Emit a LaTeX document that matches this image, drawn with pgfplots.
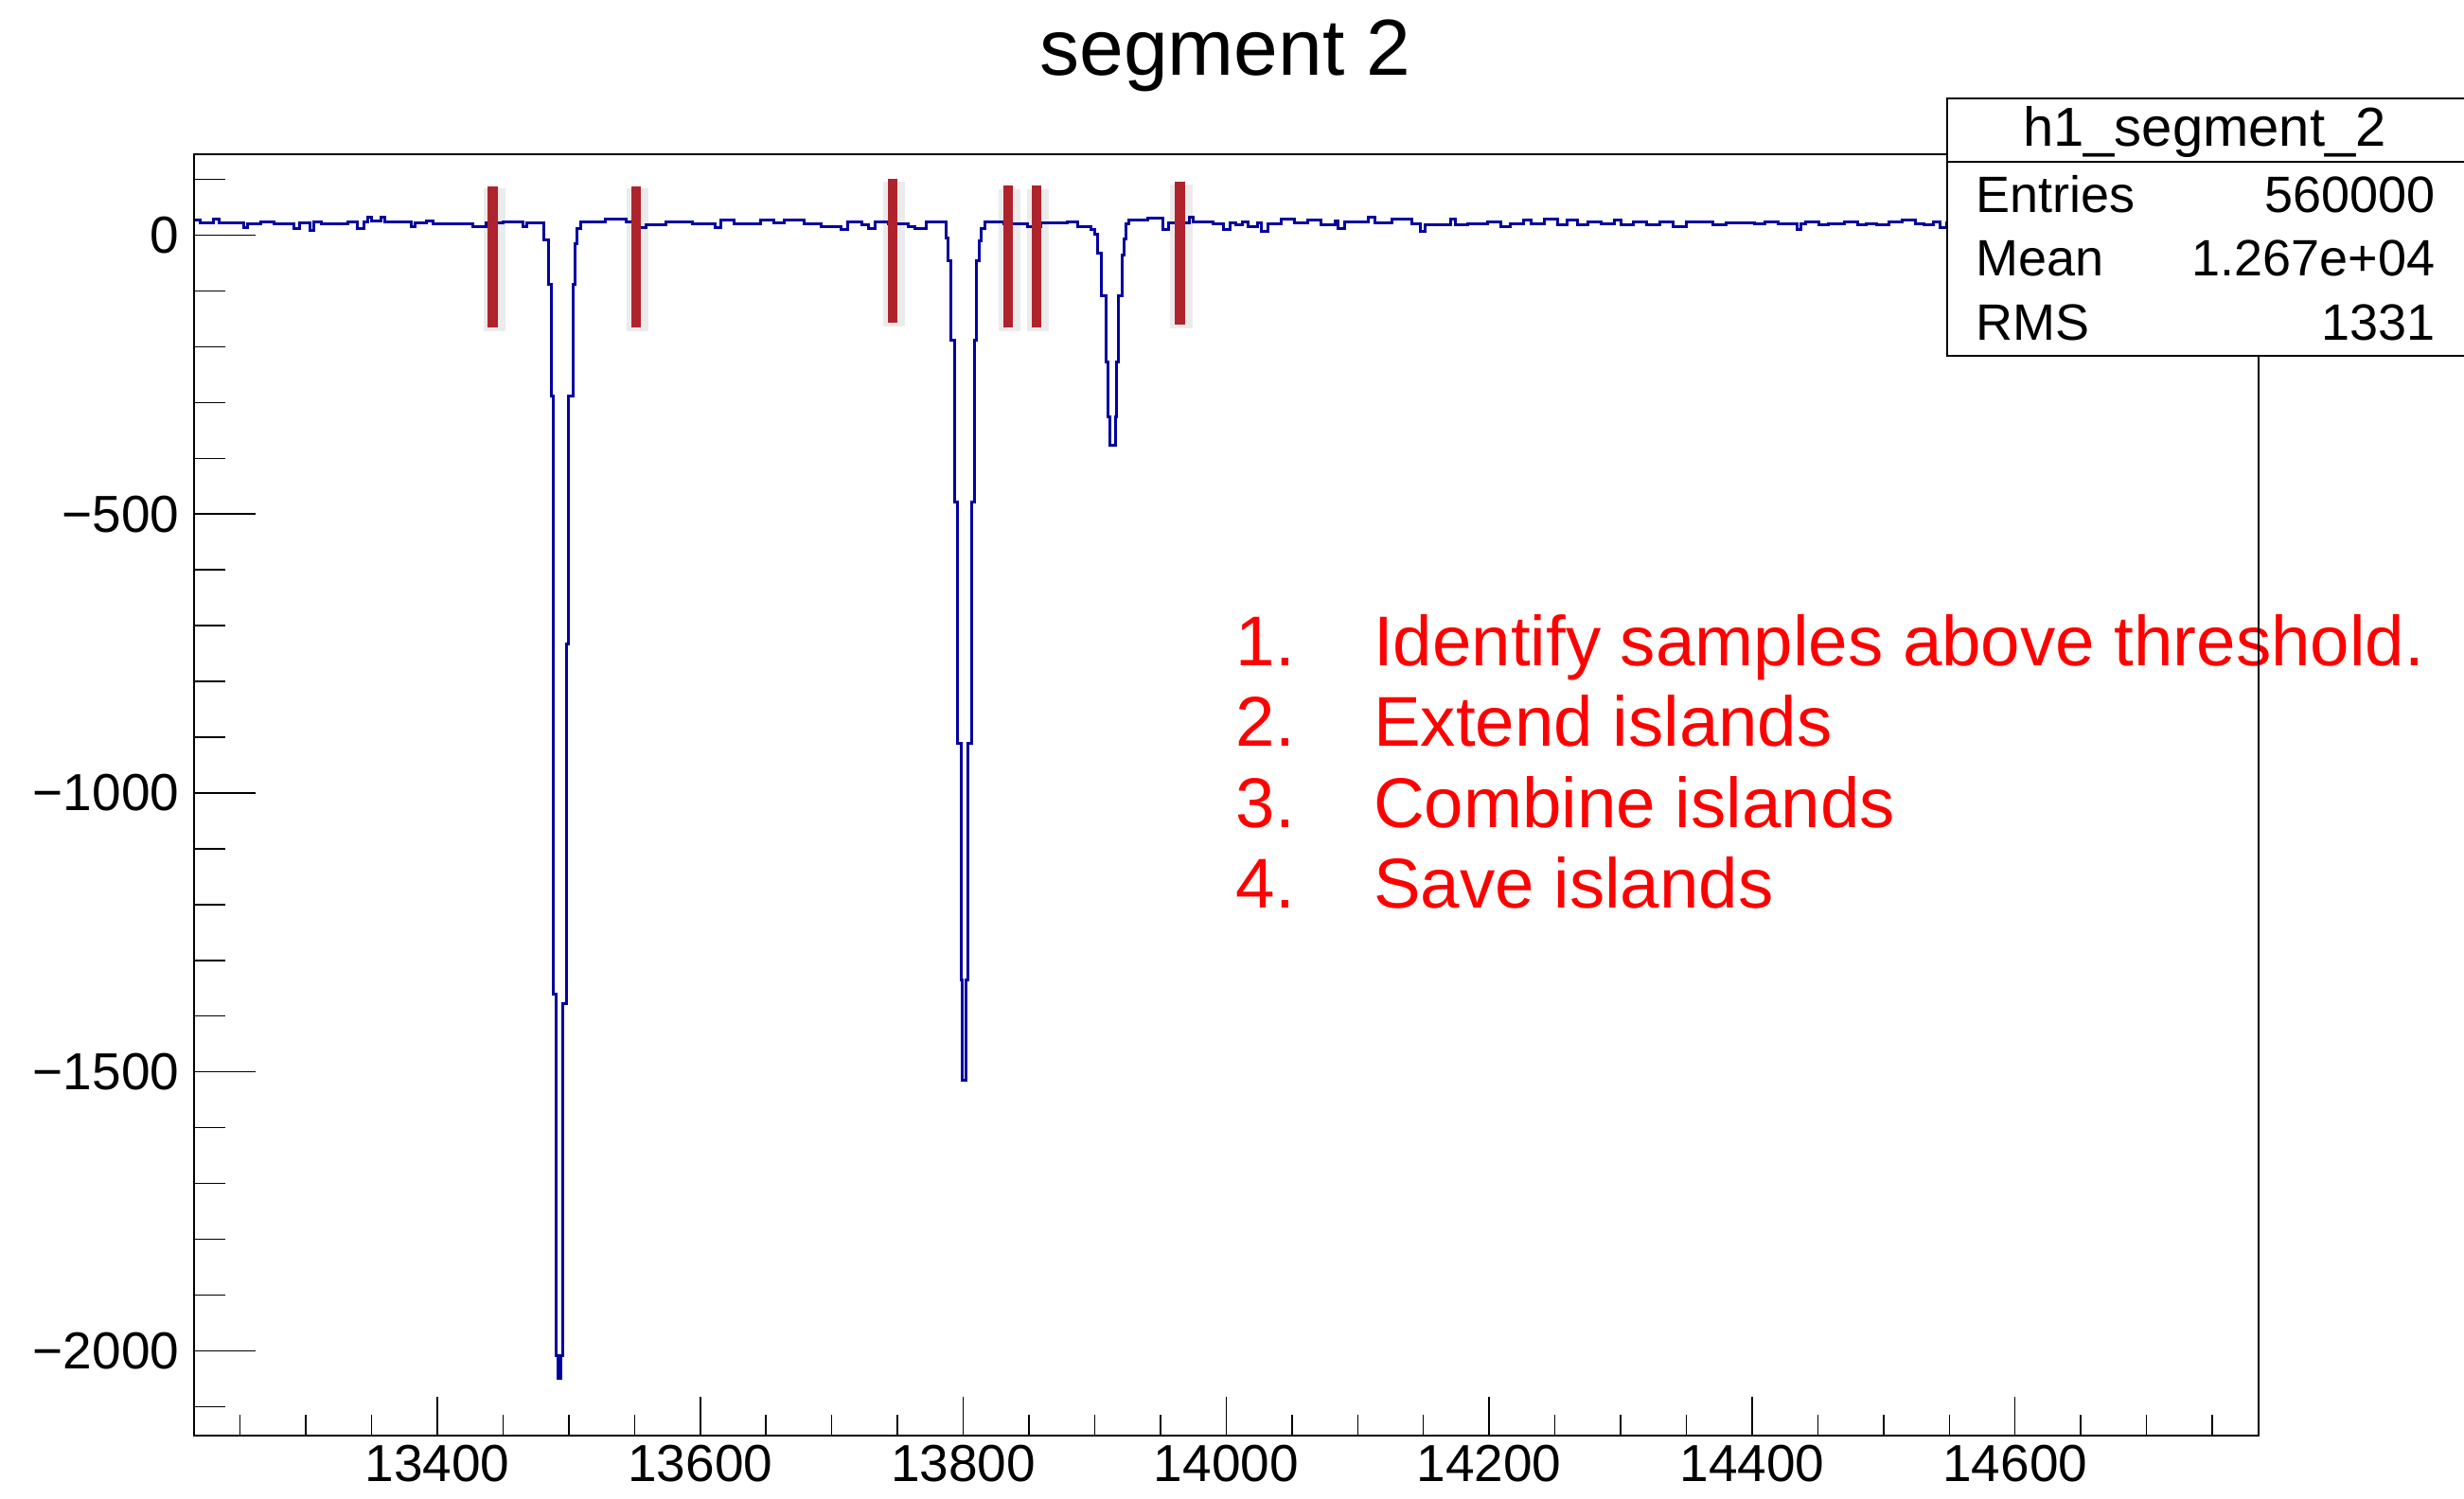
\documentclass[border=0pt]{standalone}
\usepackage{pgfplots}
\pgfplotsset{compat=1.18}
\usepackage{fontspec}
\setmainfont{Liberation Sans}
\definecolor{histblue}{RGB}{0,0,160}
\definecolor{barred}{RGB}{175,35,45}
\definecolor{notered}{RGB}{255,0,0}

\begin{document}
\begin{tikzpicture}
\useasboundingbox (-61.5pt,-19.8pt) rectangle (719.4pt,455.1pt);
\begin{axis}[
  name=ax, at={(0,0)}, anchor=south west,
  scale only axis, width=654.2pt, height=406.2pt,
  xmin=13215, xmax=14785, ymin=-2152, ymax=145,
  axis line style={line width=0.6pt},
  xtick={13400,13600,13800,14000,14200,14400,14600},
  xticklabels={13400,13600,13800,14000,14200,14400,14600},
  ytick={-2000,-1500,-1000,-500,0},
  yticklabels={−2000,−1500,−1000,−500,0},
  minor xtick={13250,13300,...,14750},
  minor ytick={-2100,-2000,...,100},
  tick pos=left,
  tick align=inside,
  xtick style={line width=0.45pt, black, /pgfplots/major tick length=12.3pt, /pgfplots/minor tick length=6.6pt},
  ytick style={line width=0.45pt, black, /pgfplots/major tick length=19.5pt, /pgfplots/minor tick length=9.9pt},
  tick label style={font=\fontsize{16.5}{18}\selectfont},
  yticklabel style={xshift=-1.2pt},
  xticklabel style={yshift=0.6pt},
  clip=false,
  axis on top,
]
\addplot[const plot, histblue, line width=0.9pt] coordinates {
(13215,27) (13220,22) (13230,28) (13234,22) (13253,14) (13256,21) (13266,24) (13276,20)
(13291,12) (13295,22) (13303,8) (13306,23) (13312,21) (13332,24) (13339,12) (13344,24)
(13347,33) (13350,26) (13357,33) (13360,24) (13380,16) (13383,22) (13392,26) (13397,20)
(13427,15) (13437,22) (13450,24) (13465,15) (13468,22) (13476,22)
(13481,-9) (13484.3,-88) (13486.5,-288) (13488.1,-1360) (13490.5,-2008) (13491.9,-2050)
(13494.2,-2008) (13495.3,-1377) (13498.6,-733) (13499.8,-288) (13503.4,-88) (13505,-15)
(13506.3,12) (13509,24)
(13528,29) (13544,24) (13554,13) (13559,18) (13574,24) (13594,20) (13611,13) (13616,27)
(13626,21) (13646,27) (13656,22) (13664,27) (13679,20) (13692,16) (13707,10) (13712,24)
(13723,18) (13728,12) (13733,24) (13743,21) (13758,16) (13763,12) (13772,24)
(13786.9,-5) (13788.6,-45) (13790.5,-189) (13793.4,-479) (13795.8,-911) (13798.2,-1335)
(13799.4,-1515) (13801.8,-1335) (13803.7,-911) (13806.1,-479) (13808.5,-189) (13810.2,-45)
(13811.9,-10) (13813.8,12) (13816.2,24)
(13831,21) (13849,15) (13859,22) (13879,24) (13887,16) (13897,10)
(13900.1,1) (13902.5,-33) (13904.9,-109) (13908.5,-227) (13910.2,-326) (13911.6,-377)
(13915.7,-326) (13916.9,-227) (13918.1,-109) (13921.2,-35) (13922.2,-6) (13924.1,20)
(13926,27) (13940,30) (13952,10) (13956,22) (13972,32) (13975,24) (13990,20) (13998,10)
(14003,22) (14007,18) (14012,24) (14017,15) (14024,22) (14027,7) (14032,20) (14042,29)
(14052,22) (14062,27) (14072,18) (14083,26) (14085,12) (14090,24) (14108,32) (14113,22)
(14126,28) (14141,21) (14148,7) (14151,18) (14171,29) (14174,18) (14184,21) (14199,24)
(14209,15) (14216,21) (14226,27) (14232,21) (14242,28) (14252,18) (14259,27) (14267,18)
(14275,24) (14285,21) (14295,27) (14300,18) (14310,24) (14320,18) (14330,24) (14340,15)
(14350,24) (14370,18) (14380,22) (14402,21) (14410,24) (14420,21) (14434,10) (14437,21)
(14441,24) (14451,18) (14458,21) (14470,24) (14480,18) (14487,21) (14495,18) (14504,24)
(14514,27) (14524,21) (14531,18) (14538,24) (14543,13) (14548,22) (14600,22) (14650,20)
(14700,24) (14785,24)
};
% island markers (shadow + bar)
\addplot[black, opacity=0.08, line width=7pt] coordinates {(13443.5,-172) (13443.5,84)};
\addplot[barred, line width=3.2pt] coordinates {(13442.3,-165) (13442.3,87)};
\addplot[black, opacity=0.08, line width=7pt] coordinates {(13552.4,-172) (13552.4,84)};
\addplot[barred, line width=3.2pt] coordinates {(13551.2,-165) (13551.2,87)};
\addplot[black, opacity=0.08, line width=7pt] coordinates {(13747.6,-164) (13747.6,95)};
\addplot[barred, line width=3.2pt] coordinates {(13746.4,-157) (13746.4,101)};
\addplot[black, opacity=0.08, line width=7pt] coordinates {(13835.4,-173) (13835.4,83)};
\addplot[barred, line width=3.2pt] coordinates {(13834.2,-166) (13834.2,89)};
\addplot[black, opacity=0.08, line width=7pt] coordinates {(13857,-173) (13857,83)};
\addplot[barred, line width=3.2pt] coordinates {(13855.8,-166) (13855.8,89)};
\addplot[black, opacity=0.08, line width=7pt] coordinates {(13965.8,-167) (13965.8,90)};
\addplot[barred, line width=3.2pt] coordinates {(13964.6,-160) (13964.6,96)};
% annotation text
\begin{scope}[every node/.style={anchor=base west, inner sep=0pt, text=notered, font=\fontsize{22.35}{26}\selectfont}]
\node at (rel axis cs:0.50445,0.60096) {1.};
\node at (rel axis cs:0.57113,0.60096) {Identify samples above threshold.};
\node at (rel axis cs:0.50445,0.53818) {2.};
\node at (rel axis cs:0.57113,0.53818) {Extend islands};
\node at (rel axis cs:0.50445,0.47489) {3.};
\node at (rel axis cs:0.57113,0.47489) {Combine islands};
\node at (rel axis cs:0.50445,0.41189) {4.};
\node at (rel axis cs:0.57113,0.41189) {Save islands};
\end{scope}
\end{axis}
% title
\node[anchor=base, inner sep=0pt, font=\fontsize{25.2}{30}\selectfont] at (326.85pt,431.1pt) {segment 2};
% statistics box
\draw[line width=0.6pt, fill=white] (555.5pt,342.4pt) rectangle (725pt,423.8pt);
\draw[line width=0.6pt] (555.5pt,403.8pt) -- (725pt,403.8pt);
\begin{scope}[every node/.style={inner sep=0pt, font=\fontsize{16.2}{19}\selectfont}]
\node[anchor=base, font=\fontsize{17.4}{20}\selectfont] at (637.2pt,408.6pt) {h1\_segment\_2};
\node[anchor=base west] at (564.5pt,387.6pt) {Entries};
\node[anchor=base east] at (710.4pt,387.6pt) {560000};
\node[anchor=base west] at (564.5pt,367.6pt) {Mean};
\node[anchor=base east] at (710.4pt,367.6pt) {1.267e+04};
\node[anchor=base west] at (564.5pt,347.1pt) {RMS};
\node[anchor=base east] at (710.4pt,347.1pt) {1331};
\end{scope}
\end{tikzpicture}
\end{document}
